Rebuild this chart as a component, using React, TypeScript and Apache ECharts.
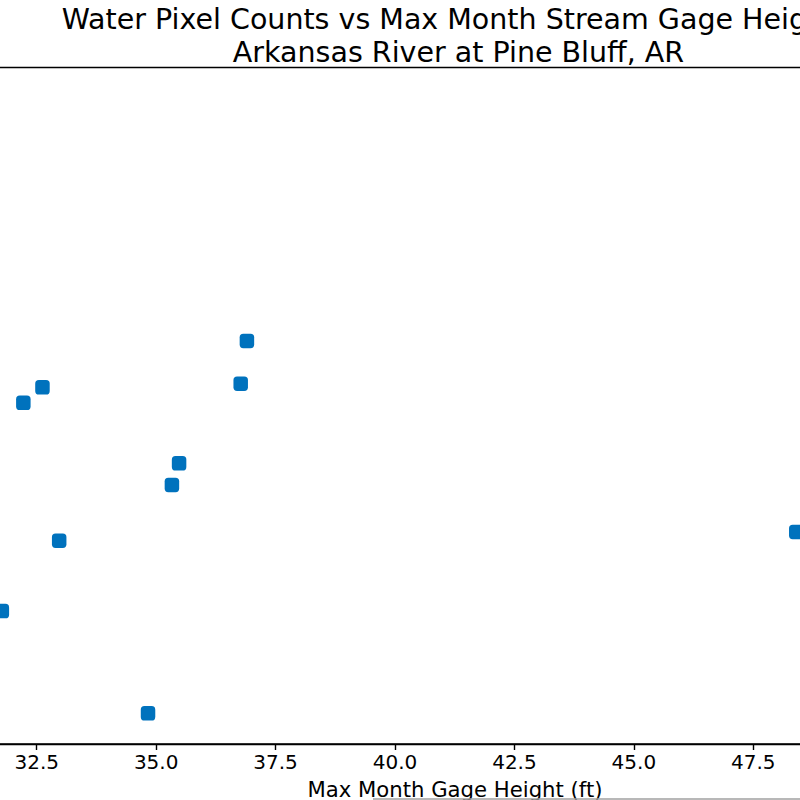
import React, { useEffect, useRef } from "react";
import * as echarts from "echarts";

const titleLine1 = "Water Pixel Counts vs Max Month Stream Gage Height";
const titleLine2 = "Arkansas River at Pine Bluff, AR";
const xAxisTitle = "Max Month Gage Height (ft)";

// Max month gage height (ft)
const gageHeight = [32.22, 32.62, 36.9, 36.77, 35.48, 35.33, 32.97, 31.77, 34.83, 48.4];
// Water pixel counts
const pixelCount = [5531, 5691, 6170, 5728, 4905, 4680, 4104, 3376, 2318, 4194];

const xMin = 30;
const xMax = 50;
const xStep = 2.5;
const yMin = 2000;
const yMax = 9000;

const FONT = "DejaVu Sans";
const OFFSET = 100; // chart canvas starts 100px left of the page

export default function App() {
  const ref = useRef<HTMLDivElement>(null);
  useEffect(() => {
    if (!ref.current) return;
    const chart = echarts.init(ref.current, undefined, { renderer: "svg" });
    const points = gageHeight.map((g, i) => [g, pixelCount[i]]);
    chart.setOption({
      animation: false,
      backgroundColor: "#ffffff",
      title: [
        {
          text: titleLine1,
          left: 61.7 + OFFSET,
          top: 5,
          padding: 0,
          textStyle: { fontFamily: FONT, fontSize: 28.5, fontWeight: "normal", color: "#000" },
        },
        {
          text: titleLine2,
          left: 458.5 + OFFSET,
          textAlign: "center",
          top: 38,
          padding: 0,
          textStyle: { fontFamily: FONT, fontSize: 28.5, fontWeight: "normal", color: "#000" },
        },
      ],
      grid: {
        left: 17.3,
        right: 27.3,
        top: 67.5,
        bottom: 56,
        outerBoundsMode: "none",
        containLabel: false,
        show: true,
        borderColor: "#000",
        borderWidth: 1.4,
        backgroundColor: "transparent",
      },
      xAxis: {
        type: "value",
        min: xMin,
        max: xMax,
        interval: xStep,
        splitLine: { show: false },
        axisLine: { show: true, lineStyle: { color: "#000", width: 1.4 } },
        axisTick: { show: true, inside: false, length: 6, lineStyle: { color: "#000", width: 1.4 } },
        axisLabel: {
          margin: 8,
          showMinLabel: false,
          showMaxLabel: false,
          fontFamily: FONT,
          fontSize: 20,
          color: "#000",
          formatter: (v: number) => v.toFixed(1),
        },
      },
      yAxis: {
        type: "value",
        min: yMin,
        max: yMax,
        splitLine: { show: false },
        axisLine: { show: false },
        axisTick: { show: false },
        axisLabel: { show: false },
      },
      graphic: [
        {
          type: "text",
          x: 455 + OFFSET,
          y: 779,
          style: {
            text: xAxisTitle,
            fontFamily: FONT,
            fontSize: 21.2,
            fill: "#000",
            textAlign: "center",
            textVerticalAlign: "top",
          },
        },
        {
          type: "line",
          shape: { x1: 373 + OFFSET, y1: 799, x2: 800 + OFFSET, y2: 799 },
          style: { stroke: "#a0a0a0", lineWidth: 1.5 },
        },
      ],
      series: [
        {
          type: "scatter",
          data: points,
          symbol: "roundRect",
          symbolSize: 14.5,
          itemStyle: { color: "#0072BD", opacity: 1 },
        },
      ],
    });
    return () => chart.dispose();
  }, []);
  return (
    <div
      ref={ref}
      style={{ position: "fixed", left: -OFFSET, top: 0, width: 1000, height: 800, background: "#fff" }}
    />
  );
}
